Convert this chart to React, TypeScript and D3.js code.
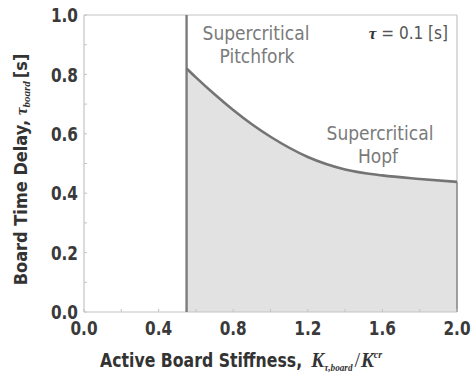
import React from "react";
import * as d3 from "d3";

// Stability boundary: board time delay vs. active board stiffness
const stiffness = [0.55, 0.6, 0.7, 0.8, 0.9, 1.0, 1.2, 1.4, 1.6, 1.8, 2.0];
const delay = [0.82, 0.79, 0.733, 0.68, 0.632, 0.59, 0.522, 0.48, 0.46, 0.448, 0.438];
const xTicks = [0.0, 0.4, 0.8, 1.2, 1.6, 2.0];
const yTicks = [0.0, 0.2, 0.4, 0.6, 0.8, 1.0];
const yMinor = [0.1, 0.3, 0.5, 0.7, 0.9];
const xMinor = [0.2, 0.6, 1.0, 1.4, 1.8];

const W = 476;
const H = 381;
const left = 84, right = 457, top = 15, bottom = 312;

const FONT = "'DejaVu Sans Condensed', 'Liberation Sans Narrow', sans-serif";
const SERIF = "'Liberation Serif', 'DejaVu Serif', serif";

export default function App() {
  const x = d3.scaleLinear().domain([0, 2]).range([left, right]);
  const y = d3.scaleLinear().domain([0, 1]).range([bottom, top]);
  const pts = stiffness.map((k, i) => [k, delay[i]] as [number, number]);

  const line = d3.line<[number, number]>()
    .x(d => x(d[0])).y(d => y(d[1]))
    .curve(d3.curveMonotoneX);
  const area = d3.area<[number, number]>()
    .x(d => x(d[0])).y0(y(0)).y1(d => y(d[1]))
    .curve(d3.curveMonotoneX);

  const k0 = stiffness[0];
  const kEnd = stiffness[stiffness.length - 1];
  const tauEnd = delay[delay.length - 1];
  const tickColor = "#3a3a3a";
  const frame = "#c4c4c4";

  return (
    <svg width={W} height={H} style={{ position: "absolute", left: 0, top: 0, background: "#fff" }}>
      {/* stable region */}
      <path d={area(pts) || ""} fill="#e2e2e2" />

      {/* frame */}
      <line x1={left} x2={right} y1={top} y2={top} stroke={frame} strokeWidth={1.2} />
      <line x1={left} x2={left} y1={top} y2={bottom} stroke={frame} strokeWidth={1.2} />
      <line x1={left} x2={right} y1={bottom} y2={bottom} stroke={frame} strokeWidth={1.2} />
      <line x1={right} x2={right} y1={top} y2={y(tauEnd)} stroke={frame} strokeWidth={1.2} />
      <line x1={x(kEnd)} x2={x(kEnd)} y1={y(tauEnd)} y2={bottom} stroke="#8a8a8a" strokeWidth={1.6} />

      {/* ticks */}
      {yTicks.concat(yMinor).map(v => (
        <line key={"yt" + v} x1={left} x2={left + 3} y1={y(v)} y2={y(v)} stroke={frame} strokeWidth={1} />
      ))}
      {xTicks.concat(xMinor).map(v => (
        <line key={"xt" + v} x1={x(v)} x2={x(v)} y1={bottom} y2={bottom - 3} stroke={frame} strokeWidth={1} />
      ))}

      {/* boundary lines */}
      <line x1={x(k0)} x2={x(k0)} y1={top} y2={bottom} stroke="#7c7c7c" strokeWidth={2.4} />
      <path d={line(pts) || ""} fill="none" stroke="#747474" strokeWidth={2.6} />

      {/* tick labels */}
      {yTicks.map(v => (
        <text key={"yl" + v} transform={`translate(78,${y(v)}) scale(0.85,1)`} dy="0.36em" textAnchor="end"
          fontFamily={FONT} fontWeight="bold" fontSize={20} fill={tickColor}>
          {v.toFixed(1)}
        </text>
      ))}
      {xTicks.map(v => (
        <text key={"xl" + v} transform={`translate(${x(v)},335) scale(0.85,1)`} textAnchor="middle"
          fontFamily={FONT} fontWeight="bold" fontSize={20} fill={tickColor}>
          {v.toFixed(1)}
        </text>
      ))}

      {/* region annotations */}
      <g fontFamily={FONT} fontSize={19} fill="#7a7a7a">
        <text x={256} y={40} textAnchor="middle">Supercritical</text>
        <text x={257} y={63} textAnchor="middle">Pitchfork</text>
        <text x={380} y={140} textAnchor="middle">Supercritical</text>
        <text x={378} y={163} textAnchor="middle">Hopf</text>
        <text x={448} y={39} textAnchor="end" fontSize={17}>
          <tspan fontFamily={SERIF} fontStyle="italic" fontWeight="bold" fill="#333">τ</tspan>
          <tspan fill="#555"> = 0.1 [s]</tspan>
        </text>
      </g>

      {/* x axis title */}
      <text transform="translate(100,367) scale(0.92,1)" fontFamily={FONT} fontWeight="bold" fontSize={19} fill="#333">
        Active Board Stiffness,
        <tspan dx={10} fontFamily={SERIF} fontStyle="italic" fontWeight="bold" fontSize={21}>K</tspan>
        <tspan dy={4} fontFamily={SERIF} fontStyle="italic" fontSize={10}>τ,board</tspan>
        <tspan dy={-4} dx={2} fontFamily={SERIF} fontSize={22} fontWeight="normal">/</tspan>
        <tspan dx={1} fontFamily={SERIF} fontStyle="italic" fontWeight="bold" fontSize={21}>K</tspan>
        <tspan dy={-9} fontFamily={SERIF} fontStyle="italic" fontSize={11}>cr</tspan>
      </text>

      {/* y axis title */}
      <text transform={`translate(27,${(top + bottom) / 2 + 6}) rotate(-90)`} textAnchor="middle"
        fontFamily={FONT} fontWeight="bold" fontSize={18} fill="#333">
        Board Time Delay,
        <tspan dx={5} fontFamily={SERIF} fontStyle="italic" fontSize={17}>τ</tspan>
        <tspan dy={3} fontFamily={SERIF} fontStyle="italic" fontSize={11}>board</tspan>
        <tspan dy={-3} dx={3}>[s]</tspan>
      </text>
    </svg>
  );
}
